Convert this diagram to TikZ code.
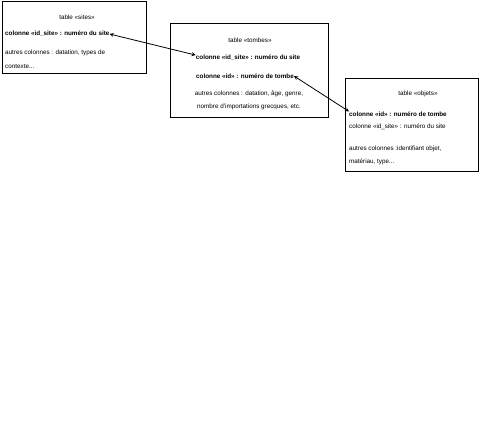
\documentclass[tikz,border=0pt]{standalone}
\usepackage{fontspec}
\setmainfont{Liberation Sans}
\begin{document}
\begin{tikzpicture}[x=1pt,y=-1pt,
    txt/.style={inner sep=0pt,font=\fontsize{6.3}{7.5}\selectfont},
    bld/.style={txt,font=\fontsize{6.3}{7.5}\selectfont\bfseries},
    lien/.style={<->,>=stealth,thick}]
  \useasboundingbox (0,0) rectangle (480,426);
  % tables
  \draw (2,1) rectangle (146,73);
  \draw (170,23) rectangle (328,117);
  \draw (345,78) rectangle (478,171);
  % table sites
  \node[txt] (sites) at (77,17) {table «sites»};
  \node[bld,anchor=west] (sitesid) at (5,34) {colonne «id\_site» : numéro du site};
  \node[txt,anchor=west] (sitesa) at (5,53) {autres colonnes : datation, types de};
  \node[txt,anchor=west] (sitesb) at (5,66) {contexte...};
  % table tombes
  \node[txt] (tombes) at (250,40) {table «tombes»};
  \node[bld] (tombessite) at (248,58) {colonne «id\_site» : numéro du site};
  \node[bld] (tombesid) at (245,76) {colonne «id» : numéro de tombe};
  \node[txt] (tombesa) at (249,94) {autres colonnes : datation, âge, genre,};
  \node[txt] (tombesb) at (249,107) {nombre d'importations grecques, etc.};
  % table objets
  \node[txt] (objets) at (418,94) {table «objets»};
  \node[bld,anchor=west] (objetsid) at (349,114) {colonne «id» : numéro de tombe};
  \node[txt,anchor=west] (objetssite) at (349,127) {colonne «id\_site» : numéro du site};
  \node[txt,anchor=west] (objetsa) at (349,149) {autres colonnes :identifiant objet,};
  \node[txt,anchor=west] (objetsb) at (349,162) {matériau, type...};
  % liens
  \draw[lien] (sitesid.east) -- (tombessite.north west);
  \draw[lien] (tombesid.east) -- (objetsid.north west);
\end{tikzpicture}
\end{document}
